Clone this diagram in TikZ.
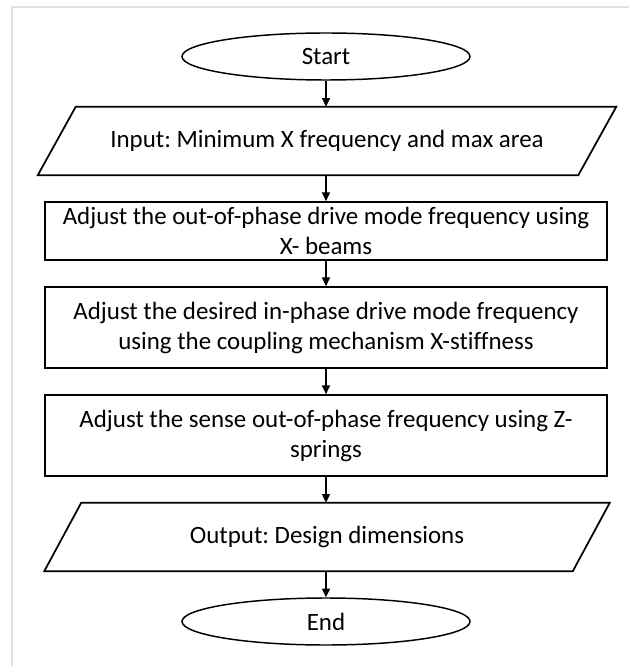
\documentclass[tikz,border=0pt]{standalone}
\usepackage{fontspec}
\setmainfont[Ligatures=NoCommon]{Carlito}
\usetikzlibrary{shapes.geometric,arrows.meta,calc}

\tikzset{
  term/.style={ellipse, draw, line width=1.1pt, inner sep=0pt,
    minimum width=216pt, minimum height=35.25pt},
  procbox/.style={rectangle, draw, line width=1.3pt, inner sep=0pt,
    minimum width=421.5pt, align=center},
  iobox/.style={rectangle, inner sep=0pt, minimum width=#1, minimum height=51pt,
    align=center},
  ioedge/.style={line width=1.3pt, line join=miter},
  arr/.style={line width=1pt, -{Triangle[width=6pt,length=6.5pt]}},
  frame/.style={draw=black!12, line width=1.5pt},
  every node/.style={font=\fontsize{18.7}{22.5}\selectfont\frenchspacing}
}

\begin{document}
\begin{tikzpicture}[x=0.75pt,y=-0.75pt]
  \useasboundingbox (0,0) rectangle (629,666);
  \fill[white] (0,0) rectangle (629,666);
  % page edge
  \draw[frame] (12,666) -- (12,7) -- (629,7);

  % terminals
  \node[term] (start) at (326,56.5) {Start};
  \node[term] (end) at (326,621.5) {End};

  % input / output (parallelograms drawn around plain nodes)
  \node[iobox=405pt] (in) at (327,141) {Input: Minimum X frequency and max area};
  \draw[ioedge] ($(in.north west)+(19,0)$) -- ($(in.north east)+(19,0)$)
     -- ($(in.south east)+(-19,0)$) -- ($(in.south west)+(-19,0)$) -- cycle;

  \node[iobox=396pt] (out) at (327,537) {Output: Design dimensions};
  \draw[ioedge] ($(out.north west)+(18.5,0)$) -- ($(out.north east)+(18.5,0)$)
     -- ($(out.south east)+(-18.5,0)$) -- ($(out.south west)+(-18.5,0)$) -- cycle;

  % process steps
  \node[procbox, minimum height=43.5pt] (s1) at (326,231)
    {Adjust the out-of-phase drive mode frequency using\\X- beams};
  \node[procbox, minimum height=60.75pt] (s2) at (326,327.5)
    {Adjust the desired in-phase drive mode frequency\\using the coupling mechanism X-stiffness};
  \node[procbox, minimum height=60.75pt] (s3) at (326,435.5)
    {Adjust the sense out-of-phase frequency using Z-\\springs};

  % flow
  \draw[arr] (start.south) -- (start.south |- in.north);
  \draw[arr] (s1.north |- in.south) -- (s1.north);
  \draw[arr] (s1.south) -- (s2.north);
  \draw[arr] (s2.south) -- (s3.north);
  \draw[arr] (s3.south) -- (s3.south |- out.north);
  \draw[arr] (end.north |- out.south) -- (end.north);
\end{tikzpicture}
\end{document}
